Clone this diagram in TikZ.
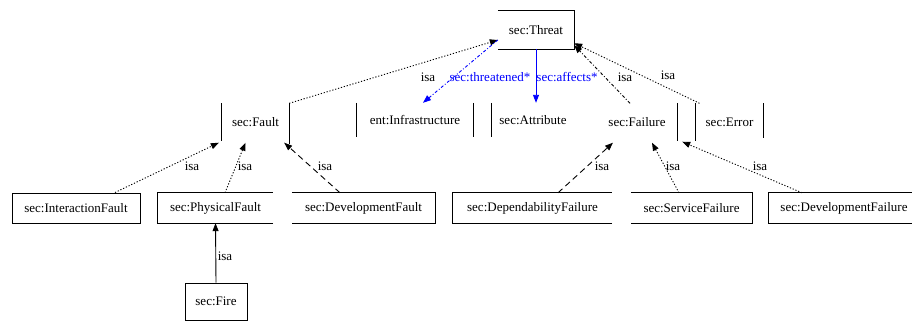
\documentclass[tikz,border=0pt]{standalone}
\usepackage{fontspec}
\setmainfont{Liberation Serif}
\usetikzlibrary{arrows.meta}
\tikzset{
  cls/.style={inner sep=0pt, minimum height=30pt, font=\fontsize{13}{15}\selectfont},
  side/.style={line width=1pt},
  lbl/.style={inner sep=0pt, font=\fontsize{13}{15}\selectfont},
  isa/.style={-{Triangle[length=8pt,width=6pt]}, line width=0.9pt},
  dots/.style={dash pattern=on 1.2pt off 1.8pt},
  dashes/.style={dash pattern=on 6pt off 4pt},
  rel/.style={isa, blue, line width=0.9pt}
}
\begin{document}
\begin{tikzpicture}[x=1pt,y=-1pt]
\useasboundingbox (0,0) rectangle (912,322);
\clip (0,0) rectangle (912,322);
% top
\node[cls, minimum width=76pt, minimum height=38pt] (threat) at (536,30) {sec:Threat};
% middle row
\node[cls, minimum width=67pt, minimum height=37pt] (fault) at (255.5,122) {sec:Fault};
\node[cls, minimum width=116pt, minimum height=34pt] (infra) at (415,120) {ent:Infrastructure};
\node[cls, minimum width=82pt, minimum height=34pt] (attr) at (533,120) {sec:Attribute};
\node[cls, minimum width=80pt, minimum height=37pt] (failure) at (637,122) {sec:Failure};
\node[cls, minimum width=67pt, minimum height=37pt] (error) at (729.5,122) {sec:Error};
% bottom row
\node[cls, draw, side, minimum width=128pt] (interaction) at (76,208) {sec:InteractionFault};
\node[cls, minimum width=115pt] (physical) at (215.5,208) {sec:PhysicalFault};
\node[cls, minimum width=143pt] (devfault) at (363.5,208) {sec:DevelopmentFault};
\node[cls, minimum width=159pt] (dependability) at (532.5,208) {sec:DependabilityFailure};
\node[cls, minimum width=121pt] (service) at (691.5,208) {sec:ServiceFailure};
\node[cls, minimum width=150pt] (devfailure) at (844,208) {sec:DevelopmentFailure};
\node[cls, draw, side, minimum width=62pt, minimum height=37pt] (fire) at (216,301.5) {sec:Fire};

% partial borders
\draw[side] (threat.north west) -- (threat.north east) -- (threat.south east) -- (threat.south west);
\draw[side] (fault.north west) -- (fault.south west);
\draw[side] (fault.north east) -- ([yshift=-3pt]fault.south east);
\draw[side] (infra.north west) -- (infra.south west);
\draw[side] (infra.north east) -- (infra.south east);
\draw[side] (attr.north west) -- (attr.south west);
\draw[side] (failure.north east) -- (failure.south east);
\draw[side] (error.north west) -- (error.south west);
\draw[side] (error.north east) -- ([yshift=3pt]error.south east);
\draw[side] (physical.south east) -- (physical.south west) -- (physical.north west) -- (physical.north east);
\draw[side] (devfault.north west) -- (devfault.north east) -- (devfault.south east) -- (devfault.south west);
\draw[side] (dependability.south east) -- (dependability.south west) -- (dependability.north west) -- (dependability.north east);
\draw[side] (service.north west) -- (service.north east) -- (service.south east) -- (service.south west);
\draw[side] (devfailure.south east) -- (devfailure.south west) -- (devfailure.north west) -- (devfailure.north east);

% isa links, upper level
\draw[isa, dots] (fault.north east) -- ([yshift=-10pt]threat.west);
\draw[isa, dash dot] ([xshift=-7pt]failure.north) -- ([yshift=4pt]threat.south east);
\draw[isa, dots] ([xshift=-30pt]error.north) -- ([yshift=6pt]threat.south east);
\node[lbl] (l1) at (428,77) {isa};
\node[lbl] (l2) at (625,77) {isa};
\node[lbl] (l3) at (668,75) {isa};

% relations
\draw[rel, dash dot] ([yshift=-10pt]threat.west) -- ([xshift=8pt]infra.north);
\draw[rel] (threat.south) -- (threat.south |- attr.north);
\node[lbl, blue] (r1) at (490,77) {sec:threatened*};
\node[lbl, blue] (r2) at (567,77) {sec:affects*};

% isa links, lower level
\draw[isa, dots] ([xshift=39pt]interaction.north) -- ([xshift=-3pt,yshift=-2pt]fault.south west);
\draw[isa, dots] ([xshift=9.5pt]physical.north) -- ([xshift=-10pt,yshift=-2pt]fault.south);
\draw[isa, dashes] ([xshift=-23.5pt]devfault.north) -- ([xshift=-5pt,yshift=-2pt]fault.south east);
\draw[isa, dashes] ([xshift=25.5pt]dependability.north) -- ([xshift=-24pt,yshift=-2pt]failure.south);
\draw[isa, dots] ([xshift=-12.5pt]service.north) -- ([xshift=15pt,yshift=-2pt]failure.south);
\draw[isa, dots] ([xshift=-42pt]devfailure.north) -- ([xshift=5pt,yshift=-1pt]failure.south east);
\draw[isa] (fire.north) -- (physical.south);
\node[lbl] (l4) at (192,166) {isa};
\node[lbl] (l5) at (245,166) {isa};
\node[lbl] (l6) at (325,166) {isa};
\node[lbl] (l7) at (602,166) {isa};
\node[lbl] (l8) at (673,166) {isa};
\node[lbl] (l9) at (760,166) {isa};
\node[lbl] (l10) at (225,256) {isa};
\end{tikzpicture}
\end{document}
